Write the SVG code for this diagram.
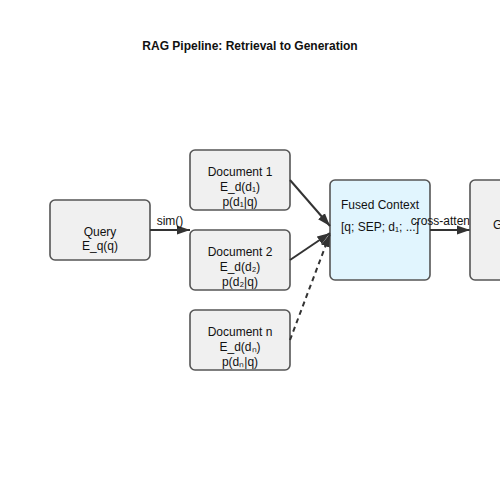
<svg xmlns="http://www.w3.org/2000/svg" width="500" height="500" viewBox="0 0 500 500">
<style>
text{font-family:"Liberation Sans",Arial,sans-serif;font-size:12px;fill:#111;text-anchor:middle}
.title{font-weight:bold}
.box{fill:#f0f0f0;stroke:#555;stroke-width:1.6}
.fused{fill:#e1f5fe;stroke:#555;stroke-width:1.6}
.edge{stroke:#333;stroke-width:2;fill:none}
.dash{stroke-dasharray:5,4}
</style>
<defs>
<marker id="arr" markerUnits="userSpaceOnUse" markerWidth="14" markerHeight="10" refX="13" refY="5" orient="auto">
<path d="M0,0.5 L13,5 L0,9.5 z" fill="#333"/>
</marker>
</defs>
<rect width="500" height="500" fill="#fff"/>
<text class="title" x="250" y="50">RAG Pipeline: Retrieval to Generation</text>
<g id="query"><rect class="box" x="50" y="200" width="100" height="60" rx="5"/><text x="100" y="235.5">Query</text><text x="100" y="250">E_q(q)</text></g>
<g id="doc1"><rect class="box" x="190" y="150" width="100" height="60" rx="5"/><text x="240" y="175.5">Document 1</text><text x="240" y="190.5">E_d(d₁)</text><text x="240" y="205.5">p(d₁|q)</text></g>
<g id="doc2"><rect class="box" x="190" y="230" width="100" height="60" rx="5"/><text x="240" y="255.5">Document 2</text><text x="240" y="270.5">E_d(d₂)</text><text x="240" y="285.5">p(d₂|q)</text></g>
<g id="docn"><rect class="box" x="190" y="310" width="100" height="60" rx="5"/><text x="240" y="335.5">Document n</text><text x="240" y="350.5">E_d(dₙ)</text><text x="240" y="365.5">p(dₙ|q)</text></g>
<g id="fused"><rect class="fused" x="330" y="180" width="100" height="100" rx="5"/><text x="380" y="209">Fused Context</text><text x="380" y="231">[q; SEP; d₁; ...]</text></g>
<g id="connectors">
<line class="edge" x1="150" y1="230" x2="190" y2="230" marker-end="url(#arr)"/>
<text x="170" y="225">sim()</text>
<line class="edge" x1="290" y1="180" x2="330" y2="226" marker-end="url(#arr)"/>
<line class="edge" x1="290" y1="260" x2="330" y2="233" marker-end="url(#arr)"/>
<line class="edge dash" x1="290" y1="340" x2="330" y2="234" marker-end="url(#arr)"/>
<line class="edge" x1="430" y1="230" x2="470" y2="230" marker-end="url(#arr)"/>
<text x="450" y="225">cross-attention</text>
</g>
<g id="generator"><rect class="box" x="470" y="180" width="100" height="100" rx="5"/><text x="520" y="229">Generator</text></g>
</svg>
